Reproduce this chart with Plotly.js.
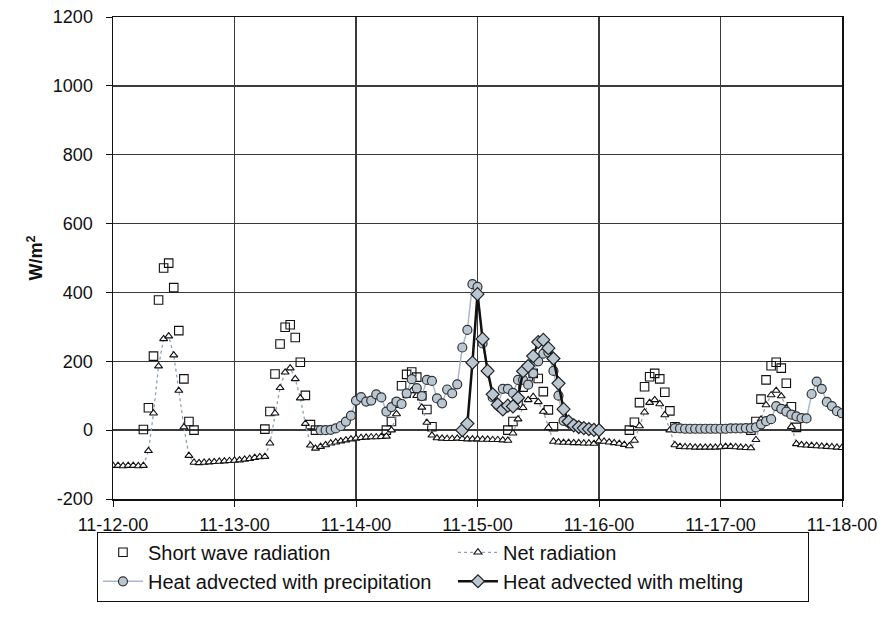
<!DOCTYPE html>
<html>
<head>
<meta charset="utf-8">
<script src="https://cdn.plot.ly/plotly-3.0.1.min.js"></script>
<style>html,body{margin:0;padding:0;background:#fff;}#chart{width:891px;height:625px;}</style>
</head>
<body>
<div id="chart"></div>
<script>
// Hourly values, hour 0 = 11-12-00 ... hour 144 = 11-18-00
const tickLabels = ["11-12-00","11-13-00","11-14-00","11-15-00","11-16-00","11-17-00","11-18-00"];
const tickHours = [0,24,48,72,96,120,144];
const yTickValues = [-200,0,200,400,600,800,1000,1200];
const yTickLabels = ["-200","0","200","400","600","800","1000","1200"];

const shortWave = [
  null,null,null,null,null,null,2,65,215,378,471,485,414,289,149,25,0,null,null,null,null,null,null,null,
  null,null,null,null,null,null,3,54,163,250,299,306,269,197,101,16,0,null,null,null,null,null,null,null,
  null,null,null,null,null,null,0,25,78,129,162,169,154,100,60,10,null,null,null,null,null,null,null,null,
  null,null,null,null,null,null,0,25,74,125,155,165,150,112,59,10,null,null,null,null,null,null,null,null,
  null,null,null,null,null,null,0,23,80,126,155,165,149,110,56,10,null,null,null,null,null,null,null,null,
  null,null,null,null,null,null,0,25,90,146,187,197,180,136,68,8,null,null,null,null,null,null,null,null,
  null
];
const netRadiation = [
  -103,-103,-104,-103,-103,-104,-103,-60,49,186,265,273,218,115,9,-74,-94,-95,-94,-93,-92,-91,-90,-89,
  -88,-87,-85,-83,-80,-78,-77,-38,49,123,168,180,149,93,19,-44,-53,-48,-43,-38,-35,-32,-29,-26,
  -24,-22,-21,-20,-20,-19,-18,0,47,75,100,114,100,66,22,-15,-23,-24,-25,-25,-24,-25,-26,-26,
  -26,-27,-27,-28,-28,-29,-30,-9,32,65,88,97,82,54,7,-33,-35,-36,-36,-37,-37,-38,-38,-39,
  -32,-33,-35,-37,-39,-42,-46,-30,12,52,80,88,76,44,0,-43,-48,-49,-49,-50,-50,-50,-50,-50,
  -49,-48,-48,-49,-50,-51,-52,-28,31,73,102,115,99,64,10,-40,-43,-44,-45,-46,-47,-48,-49,-50,
  -51
];
const precipitation = [
  null,null,null,null,null,null,null,null,null,null,null,null,null,null,null,null,null,null,null,null,null,null,null,null,
  null,null,null,null,null,null,null,null,null,null,null,null,null,null,null,null,null,0,0,1,5,12,25,42,
  86,96,83,86,104,95,54,67,83,76,107,148,122,99,146,143,92,78,118,107,133,240,291,424,
  416,252,172,95,72,120,120,108,146,146,132,165,200,222,226,172,100,27,22,16,10,6,3,1,
  0,null,null,null,null,null,null,null,null,null,null,null,null,null,null,6,5,4,4,4,4,4,4,4,
  4,4,5,5,5,6,6,8,17,26,32,70,62,54,45,40,35,34,105,141,120,82,70,55,
  49,140
];
const melting = [
  null,null,null,null,null,null,null,null,null,null,null,null,null,null,null,null,null,null,null,null,null,null,null,null,
  null,null,null,null,null,null,null,null,null,null,null,null,null,null,null,null,null,null,null,null,null,null,null,null,
  null,null,null,null,null,null,null,null,null,null,null,null,null,null,null,null,null,null,null,null,null,0,19,196,
  395,265,172,104,74,60,71,69,94,171,186,215,256,262,238,208,136,61,25,14,9,6,3,1,
  0
];

const hoursOf = arr => arr.map((_, i) => i);
const fillBlue = '#b9c7d3';

const traces = [
  {
    name: 'Short wave radiation', x: hoursOf(shortWave), y: shortWave, mode: 'markers', type: 'scatter',
    marker: {symbol: 'square-open', size: 8.5, color: '#111', line: {width: 1.1}}
  },
  {
    name: 'Net radiation', x: hoursOf(netRadiation), y: netRadiation, mode: 'lines+markers', type: 'scatter',
    line: {color: '#8fa2ba', width: 1.3, dash: 'dot'},
    marker: {symbol: 'triangle-up', size: 7, color: '#fff', line: {color: '#111', width: 1.1}}
  },
  {
    name: 'Heat advected with precipitation', x: hoursOf(precipitation), y: precipitation, mode: 'lines+markers', type: 'scatter',
    line: {color: '#a8b8c8', width: 1.5},
    marker: {symbol: 'circle', size: 9, color: fillBlue, line: {color: '#333', width: 1.2}}
  },
  {
    name: 'Heat advected with melting', x: hoursOf(melting), y: melting, mode: 'lines+markers', type: 'scatter',
    line: {color: '#111', width: 2.5},
    marker: {symbol: 'diamond', size: 10, color: fillBlue, line: {color: '#222', width: 1.2}}
  }
];

const layout = {
  width: 891, height: 625,
  margin: {l: 113, r: 49, t: 17, b: 126},
  paper_bgcolor: '#fff', plot_bgcolor: '#fff',
  font: {family: '"Liberation Sans", Arial, sans-serif', color: '#111', size: 18},
  showlegend: true,
  xaxis: {
    range: [0, 144], tickvals: tickHours, ticktext: tickLabels,
    showgrid: true, gridcolor: '#3a3a3a', gridwidth: 1.3,
    showline: true, mirror: true, linecolor: '#111', linewidth: 1.5,
    ticks: 'outside', ticklen: 6, tickcolor: '#111', zeroline: false,
    tickfont: {size: 18}, ticklabelstandoff: 3
  },
  yaxis: {
    range: [-200, 1200], tickvals: yTickValues, ticktext: yTickLabels,
    showgrid: true, gridcolor: '#3a3a3a', gridwidth: 1.3,
    showline: true, mirror: true, linecolor: '#111', linewidth: 1.5,
    ticks: 'outside', ticklen: 6, tickcolor: '#111', zeroline: false,
    tickfont: {size: 18}, ticklabelstandoff: 9,
    title: {text: '<b>W/m<sup>2</sup></b>', font: {size: 18}, standoff: 5}
  },
  legend: {
    orientation: 'h', x: -0.022, xanchor: 'left', y: -0.068, yanchor: 'top',
    bordercolor: '#111', borderwidth: 1, bgcolor: '#fff',
    font: {size: 20}, entrywidth: 300, entrywidthmode: 'pixels', itemwidth: 40,
    traceorder: 'normal'
  }
};

Plotly.newPlot('chart', traces, layout, {displayModeBar: false, staticPlot: true});
</script>
</body>
</html>
